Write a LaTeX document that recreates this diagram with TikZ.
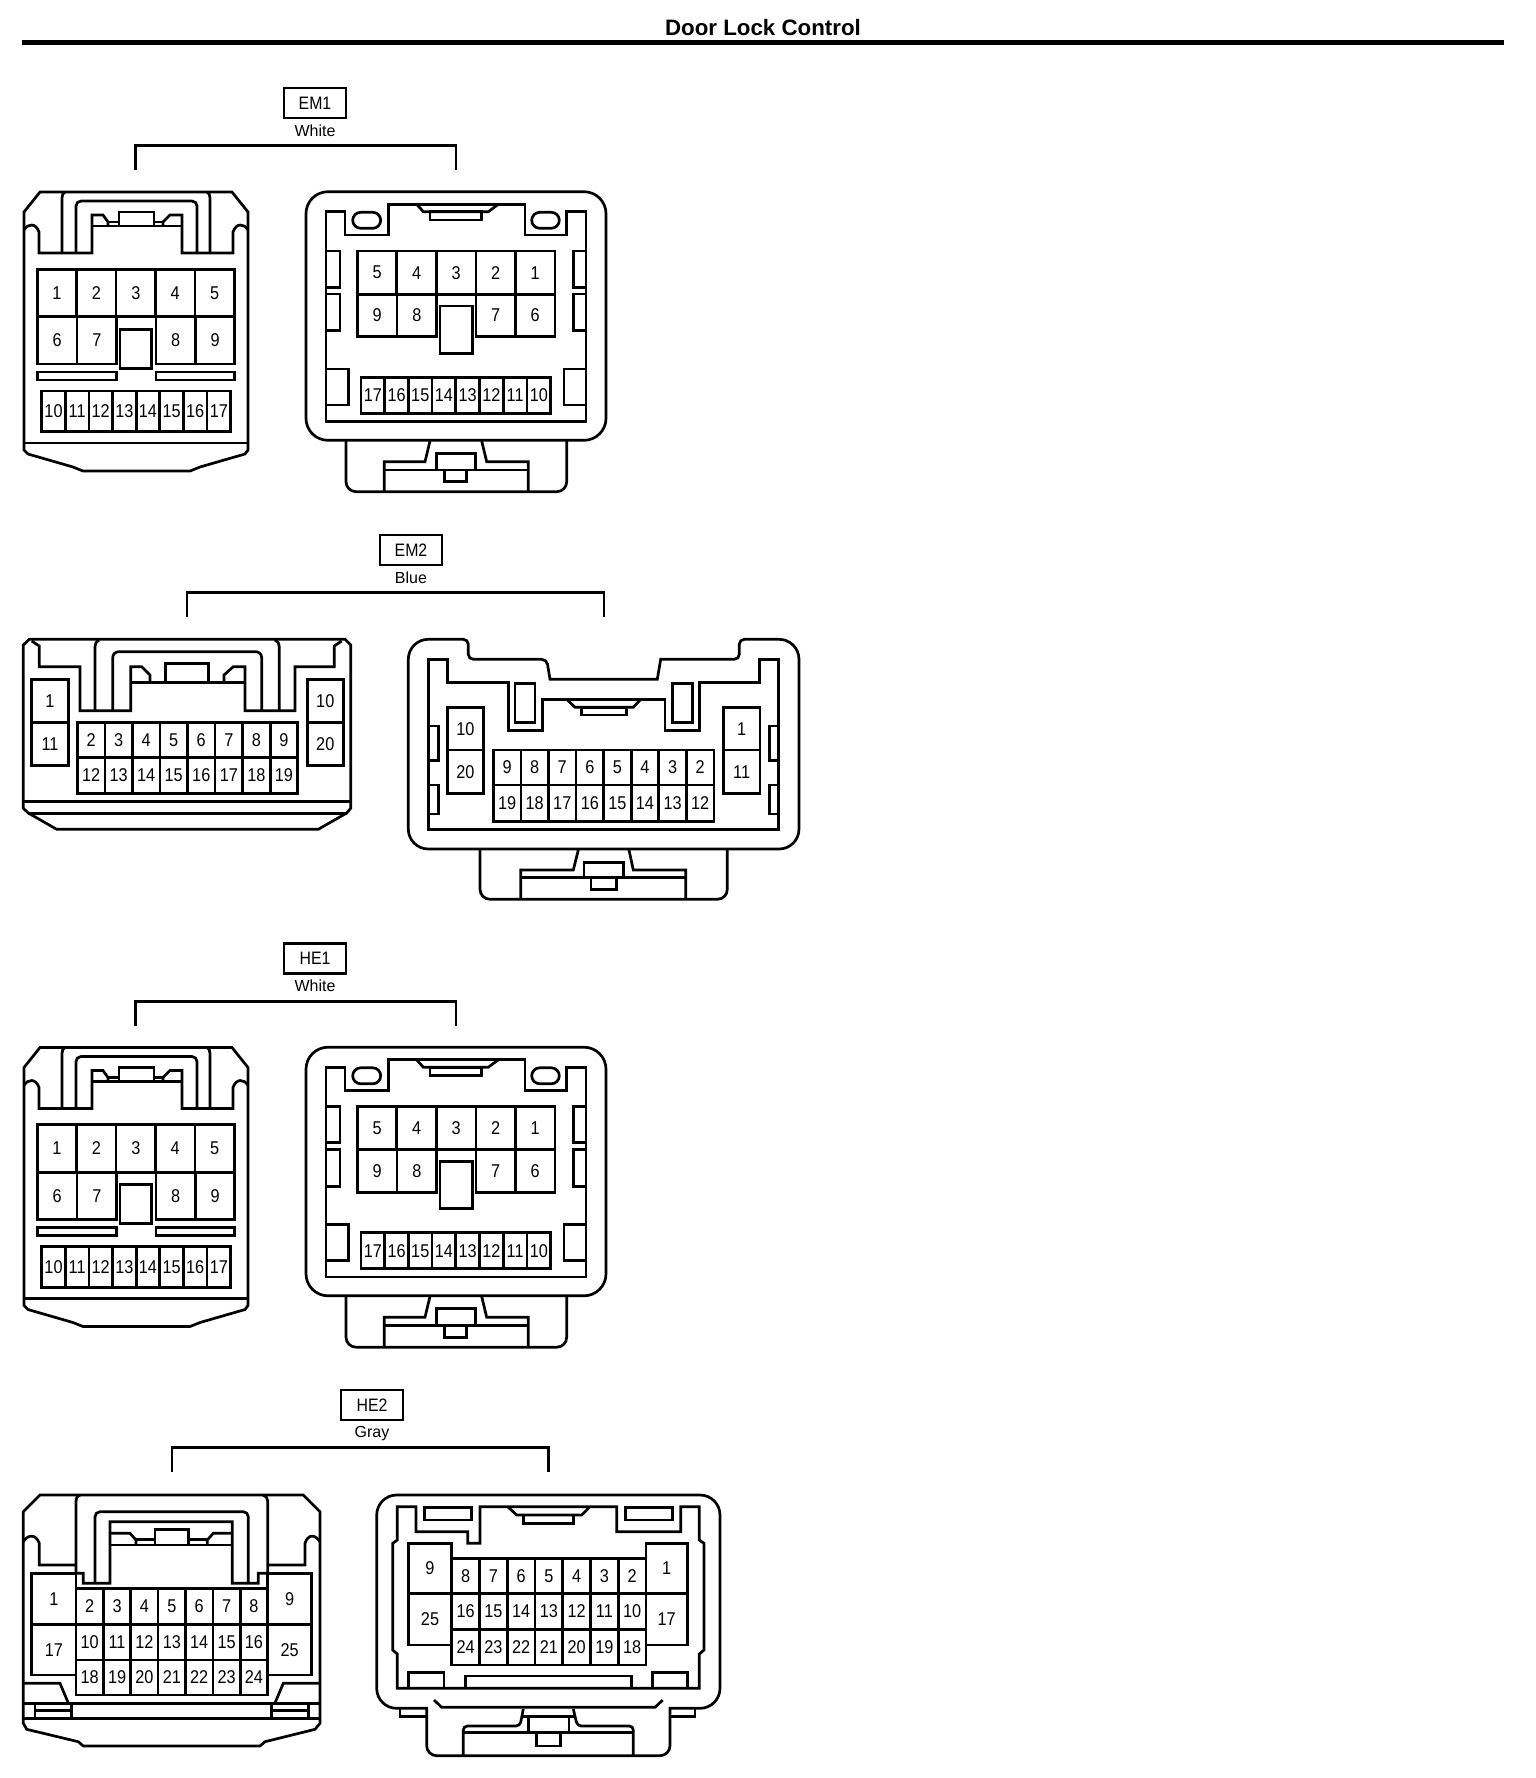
\documentclass[tikz,border=0pt]{standalone}
\usepackage{fontspec}
\setmainfont{Liberation Sans}
\newfontfamily\pinfont[FakeStretch=0.88]{Liberation Sans}
\usetikzlibrary{positioning}

% one row of numbered cavities: left x, cell width, top y, bottom y, numbers
\newcommand{\pinrow}[5]{
	\foreach \n [count=\i from 0] in {#5} {
		\draw [body] ({#1+\i*#2},#3) rectangle ({#1+(\i+1)*#2},#4);
		\node [pin] (pin\n) at ({#1+(\i+.5)*#2},{(#3+#4)/2}) {\n};
	}
}
% connector tag, colour under it and the bracket: x, y, tag, colour, bracket left, bracket right, bracket y
\newcommand{\tagblock}[7]{
	\node [tagbox] (tag#3) at (#1,#2) {#3};
	\node [colourtext, below=5pt of tag#3] (colour#3) {#4};
	\coordinate (left#3) at (#5,{#7+24.5});
	\coordinate (right#3) at (#6,{#7+24.5});
	\draw [body] (left#3) -- (#5,#7) -- (#6,#7) -- (right#3);
}

\begin{document}
\begin{tikzpicture}[x=1pt,y=-1pt]
	\tikzstyle{body}=[line width=2.7pt]
	\tikzstyle{pin}=[font=\pinfont\fontsize{18.5}{20}\selectfont, inner sep=0pt]
	\tikzstyle{tagbox}=[draw, line width=2.7pt, minimum width=62pt, minimum height=30pt, inner sep=0pt, font=\pinfont\fontsize{18}{20}\selectfont]
	\tikzstyle{colourtext}=[inner sep=0pt, font=\fontsize{16}{18}\selectfont]
	\useasboundingbox (0,0) rectangle (1536,1778);

	\node [font=\bfseries\fontsize{22.3}{24}\selectfont, inner sep=0pt] (title) at (763,28) {Door Lock Control};
	\draw [line width=4.6pt] (22,42.5) -- (1504,42.5);

	% EM1 and HE1 are the same pair
	\foreach \tag/\dy in {EM1/0,HE1/855.5} {
	\begin{scope}[yshift=-\dy pt, name prefix=\tag-]
		\tagblock{315}{103}{\tag}{White}{135.5}{456}{145.7}
		% male side
		\draw [body] (24,212) -- (40,192) -- (232,192) -- (248,212) -- (248,450) -- (245,454) -- (200,467) -- (190,471) -- (83,471) -- (73,467) -- (28,454) -- (24,450) -- cycle;
		\draw [body] (24,443) -- (248,443);
		\draw [body] (24,230) .. controls (28,223) and (36,223) .. (39,232) -- (39,253) -- (92,253) -- (92,215) -- (103,215) -- (108,222) -- (108,226);
		\draw [body] (248,230) .. controls (244,223) and (236,223) .. (233,232) -- (233,253) -- (182,253) -- (182,215) -- (170,215) -- (163,222) -- (163,226);
		\draw [body] (92,226) -- (182,226);
		\draw [body] (119,226) -- (119,212) -- (154,212) -- (154,226);
		\draw [body] (108,222) -- (119,222);
		\draw [body] (154,222) -- (163,222);
		\draw [body] (62,253) -- (62,198) .. controls (62,195) and (63,193) .. (65,192);
		\draw [body] (210,253) -- (210,198) .. controls (210,195) and (209,193) .. (207,192);
		\draw [body, rounded corners=5pt] (76,253) -- (76,201) -- (197,201) -- (197,253);
		\pinrow{37.3}{39.4}{269.3}{316.7}{1,2,3,4,5}
		\pinrow{37.3}{39.7}{316.7}{364}{6,7}
		\pinrow{156}{39.4}{316.7}{364}{8,9}
		\draw [body] (120,329.3) rectangle (151.7,368.3);
		\draw [body] (37.3,372) rectangle (116.7,380);
		\draw [body] (156,372) rectangle (234.7,380);
		\pinrow{41.7}{23.62}{391}{431.7}{10,11,12,13,14,15,16,17}
		% female side
		\draw [body, rounded corners=22pt] (306,315) -- (306,191.7) -- (606,191.7) -- (606,440.3) -- (306,440.3) -- cycle;
		\draw [body, rounded corners=10pt] (346,440.3) -- (346,491.7) -- (566.7,491.7) -- (566.7,440.3);
		\draw [body] (326,211.7) -- (345,211.7) -- (345,235) -- (388.3,235) -- (388.3,204.3) -- (525,204.3) -- (525,235) -- (566.7,235) -- (566.7,211.7) -- (586,211.7) -- (586,421.5) -- (326,421.5) -- cycle;
		\draw [body, rounded corners=8pt] (352.7,212.3) rectangle (380.7,228.3);
		\draw [body, rounded corners=8pt] (531.7,212.3) rectangle (559.3,228.3);
		\draw [body] (416.7,204.3) -- (423.3,211.7) -- (488.3,211.7) -- (498.3,204.3);
		\draw [body] (430,211.7) rectangle (481.7,220);
		\draw [body] (326,251) -- (340,251) -- (340,287.3) -- (326,287.3);
		\draw [body] (326,294) -- (340,294) -- (340,330.7) -- (326,330.7);
		\draw [body] (586,251) -- (573.3,251) -- (573.3,287.3) -- (586,287.3);
		\draw [body] (586,294) -- (573.3,294) -- (573.3,330.7) -- (586,330.7);
		\draw [body] (326,369) -- (348.3,369) -- (348.3,405) -- (326,405);
		\draw [body] (586,369) -- (564,369) -- (564,405) -- (586,405);
		\pinrow{357.3}{39.54}{251}{294.3}{5,4,3,2,1}
		\pinrow{357.3}{39.7}{294.3}{336.7}{9,8}
		\pinrow{476}{39.5}{294.3}{336.7}{7,6}
		\draw [body, fill=white] (440,306) rectangle (472.3,353.3);
		\pinrow{361}{23.71}{377.3}{413.3}{17,16,15,14,13,12,11,10}
		\draw [body] (384.3,491.7) -- (384.3,461.7) -- (425,461.7) -- (430,441);
		\draw [body] (528.3,491.7) -- (528.3,461.7) -- (486.7,461.7) -- (481.7,441);
		\draw [body] (384.3,470) -- (528.3,470);
		\draw [body] (436.7,470) -- (436.7,453.3) -- (475.7,453.3) -- (475.7,470);
		\draw [body] (444.3,470) -- (444.3,481.7) -- (466.7,481.7) -- (466.7,470);
	\end{scope}
	}

	% EM2
	\begin{scope}[name prefix=EM2-]
		\tagblock{411}{550}{EM2}{Blue}{187}{604}{592.3}
		% male side
		\draw [body] (23.3,645) -- (29.3,639.3) -- (345,639.3) -- (350.7,645) -- (350.7,808.3) -- (346.7,813) -- (318.3,829.3) -- (56.7,829.3) -- (28.3,813) -- (23.3,808.3) -- cycle;
		\draw [body] (23.3,801.7) -- (350.7,801.7);
		\draw [body] (28.3,813.3) -- (346.7,813.3);
		\draw [body] (31.7,641) -- (39.3,646) -- (39.3,666.7) -- (80,666.7) -- (80,710.7) -- (130.7,710.7) -- (130.7,666.7) -- (141.7,666.7) -- (150,675) -- (150,682.7);
		\draw [body] (341.7,641) -- (334.3,646) -- (334.3,666.7) -- (295,666.7) -- (295,710.7) -- (245,710.7) -- (245,666.7) -- (233.3,666.7) -- (224,675) -- (224,682.7);
		\draw [body] (130.7,682.7) -- (245,682.7);
		\draw [body] (165.7,682.7) -- (165.7,663.3) -- (208.3,663.3) -- (208.3,682.7);
		\draw [body] (95,710.7) -- (95,646.7) .. controls (95,644) and (96,641) .. (99,640);
		\draw [body] (279.3,710.7) -- (279.3,646.7) .. controls (279.3,644) and (278,641) .. (275,640);
		\draw [body, rounded corners=6pt] (112.7,710.7) -- (112.7,651.7) -- (261.7,651.7) -- (261.7,710.7);
		\pinrow{31.7}{36.6}{679.3}{722.3}{1}
		\pinrow{31.7}{36.6}{722.3}{765.7}{11}
		\pinrow{307.3}{36}{679.3}{722.3}{10}
		\pinrow{307.3}{36}{722.3}{765.7}{20}
		\pinrow{77.3}{27.55}{722.3}{757.3}{2,3,4,5,6,7,8,9}
		\pinrow{77.3}{27.55}{757.3}{793.3}{12,13,14,15,16,17,18,19}
		% female side
		\draw [body, rounded corners=5pt] (408.3,690) [rounded corners=20pt] -- (408.3,639.3) [rounded corners=5pt] -- (468.3,639.3) -- (468.3,659.3) -- (546.7,659.3) [sharp corners] -- (550,679.3) -- (657.3,679.3) -- (660.7,659.3) [rounded corners=5pt] -- (739.3,659.3) -- (739.3,639.3) [rounded corners=20pt] -- (799,639.3) -- (799,849) -- (408.3,849) -- (408.3,690);
		\draw [body] (428.3,659.3) -- (447.7,659.3) -- (447.7,682.7) -- (508.3,682.7) -- (508.3,730.7) -- (542.7,730.7) -- (542.7,699.3) -- (665,699.3) -- (665,730.7) -- (699.3,730.7) -- (699.3,682.7) -- (759.3,682.7) -- (759.3,659.3) -- (778.3,659.3) -- (778.3,829.3) -- (428.3,829.3) -- cycle;
		\draw [body] (515,683.3) rectangle (535,722.7);
		\draw [body] (672.7,683.3) rectangle (692.3,722.7);
		\draw [body] (566.7,699.3) -- (575,707.3) -- (633.3,707.3) -- (640.7,699.3);
		\draw [body] (581.7,707.3) rectangle (626.7,715);
		\draw [body] (429,726) -- (438.3,726) -- (438.3,760.7) -- (429,760.7);
		\draw [body] (429,785) -- (438.3,785) -- (438.3,814) -- (429,814);
		\draw [body] (778,726) -- (769.3,726) -- (769.3,760.7) -- (778,760.7);
		\draw [body] (778,785) -- (769.3,785) -- (769.3,814) -- (778,814);
		\pinrow{447.3}{36}{707.3}{750}{10}
		\pinrow{447.3}{36}{750}{793.3}{20}
		\pinrow{723.3}{36.7}{707.3}{750}{1}
		\pinrow{723.3}{36.7}{750}{793.3}{11}
		\pinrow{493.3}{27.58}{750}{785}{9,8,7,6,5,4,3,2}
		\pinrow{493.3}{27.58}{785}{821.7}{19,18,17,16,15,14,13,12}
		\draw [body, rounded corners=10pt] (480,849) -- (480,899.3) -- (727.3,899.3) -- (727.3,849);
		\draw [body] (520.7,899.3) -- (520.7,870) -- (573.3,870) -- (578.3,850);
		\draw [body] (685.7,899.3) -- (685.7,870) -- (633.3,870) -- (629,850);
		\draw [body] (520.7,877.3) -- (685.7,877.3);
		\draw [body] (584,877.3) -- (584,862.7) -- (623.3,862.7) -- (623.3,877.3);
		\draw [body] (591,877.3) -- (591,889.3) -- (616.7,889.3) -- (616.7,877.3);
	\end{scope}

	% HE2
	\begin{scope}[name prefix=HE2-]
		\tagblock{372}{1405}{HE2}{Gray}{172}{548.4}{1447.3}
		% male side
		\draw [body] (23.3,1511.7) -- (40,1495) -- (303.3,1495) -- (320,1511.7) -- (320,1723.3) -- (315,1729.3) -- (265,1741.7) -- (260,1746) -- (83.3,1746) -- (78.3,1741.7) -- (26.7,1729.3) -- (23.3,1723.3) -- cycle;
		\draw [body] (23.3,1703.3) -- (320,1703.3);
		\draw [body] (23.3,1718.3) -- (320,1718.3);
		\draw [body] (23.3,1541.7) .. controls (28,1534) and (36,1534) .. (39.3,1543.3) -- (39.3,1565) -- (76,1565);
		\draw [body] (320,1541.7) .. controls (315,1534) and (308,1534) .. (305,1543.3) -- (305,1565) -- (267.7,1565);
		\draw [body] (80,1495) .. controls (77,1496) and (76,1498) .. (76,1501) -- (76,1573.3) -- (83.3,1573.3) -- (83.3,1583.3) -- (110,1583.3) -- (110,1521.7) -- (232.3,1521.7) -- (232.3,1583.3) -- (258.3,1583.3) -- (258.3,1573.3) -- (267.7,1573.3) -- (267.7,1501) .. controls (267.7,1498) and (266,1496) .. (263,1495);
		\draw [body, rounded corners=5pt] (95,1583.3) -- (95,1511.7) -- (248.3,1511.7) -- (248.3,1583.3);
		\draw [body] (110,1545) -- (232.3,1545);
		\draw [body] (110,1533.3) -- (130,1533.3) -- (136,1540) -- (136,1545);
		\draw [body] (232.3,1533.3) -- (213.3,1533.3) -- (207.3,1540) -- (207.3,1545);
		\draw [body] (155,1545) -- (155,1529.3) -- (188.3,1529.3) -- (188.3,1545);
		\draw [body] (136,1539.3) -- (155,1539.3);
		\draw [body] (188.3,1539.3) -- (207.3,1539.3);
		\pinrow{31.7}{44.3}{1573.3}{1624.3}{1}
		\pinrow{31.7}{44.3}{1624.3}{1675}{17}
		\pinrow{267.7}{44}{1573.3}{1624.3}{9}
		\pinrow{267.7}{44}{1624.3}{1675}{25}
		\pinrow{76}{27.38}{1588.3}{1624.3}{2,3,4,5,6,7,8}
		\pinrow{76}{27.38}{1624.3}{1660}{10,11,12,13,14,15,16}
		\pinrow{76}{27.38}{1660}{1695}{18,19,20,21,22,23,24}
		\draw [body] (23.3,1683.3) -- (60,1683.3) -- (68.3,1703);
		\draw [body] (320,1683.3) -- (283.3,1683.3) -- (275,1703);
		\draw [body] (35,1703.3) -- (35,1718.3);
		\draw [body] (71.7,1703.3) -- (71.7,1718.3);
		\draw [body] (35,1710.7) -- (71.7,1710.7);
		\draw [body] (271.7,1703.3) -- (271.7,1718.3);
		\draw [body] (308.3,1703.3) -- (308.3,1718.3);
		\draw [body] (271.7,1710.7) -- (308.3,1710.7);
		% female side
		\draw [body, rounded corners=20pt] (376.7,1600) -- (376.7,1495) -- (720,1495) -- (720,1708.3) [sharp corners] -- (670,1708.3) [rounded corners=10pt] -- (670,1755.7) -- (426.7,1755.7) [sharp corners] -- (426.7,1708.3) [rounded corners=20pt] -- (376.7,1708.3) -- (376.7,1600);
		\draw [body] (400,1708.3) -- (400,1716.7) -- (426.7,1716.7);
		\draw [body] (695,1708.3) -- (695,1716.7) -- (670,1716.7);
		\draw [body] (397.3,1506.7) -- (416,1506.7) -- (416,1531.7) -- (467.7,1531.7) -- (467.7,1543.3) -- (480,1543.3) -- (480,1506.7) -- (616.7,1506.7) -- (616.7,1531.7) -- (680.7,1531.7) -- (680.7,1506.7) -- (699.3,1506.7) -- (699.3,1540) -- (704,1543.3) -- (704,1650) -- (699.3,1654) -- (699.3,1688.3) -- (397.3,1688.3) -- (397.3,1654) -- (392.7,1650) -- (392.7,1543.3) -- (397.3,1540) -- cycle;
		\draw [body] (424.3,1507.3) rectangle (471.7,1520);
		\draw [body] (625.7,1507.3) rectangle (672.7,1520);
		\draw [body] (508.3,1507.3) -- (516.7,1515) -- (581.7,1515) -- (589.3,1507.3);
		\draw [body] (523.3,1515) rectangle (573.3,1523.3);
		\pinrow{408.3}{43.4}{1543.3}{1593.3}{9}
		\pinrow{408.3}{43.4}{1593.3}{1645}{25}
		\pinrow{646}{41.3}{1543.3}{1593.3}{1}
		\pinrow{646}{41.3}{1593.3}{1645}{17}
		\pinrow{451.7}{27.76}{1558.3}{1593.3}{8,7,6,5,4,3,2}
		\pinrow{451.7}{27.76}{1593.3}{1629.3}{16,15,14,13,12,11,10}
		\pinrow{451.7}{27.76}{1629.3}{1665}{24,23,22,21,20,19,18}
		\draw [body] (408.3,1688.3) -- (408.3,1672.7) -- (444,1672.7) -- (444,1688.3);
		\draw [body] (652.7,1688.3) -- (652.7,1672.7) -- (687.3,1672.7) -- (687.3,1688.3);
		\draw [body] (465.7,1688.3) -- (465.7,1676) -- (631.7,1676) -- (631.7,1688.3);
		\draw [body] (434,1700) -- (441.7,1707.3) -- (655,1707.3) -- (662.7,1700);
		\draw [body, rounded corners=4pt] (463.3,1755.7) -- (463.3,1726) -- (520,1726) [sharp corners] -- (523.3,1709);
		\draw [body, rounded corners=4pt] (633.3,1755.7) -- (633.3,1726) -- (577.3,1726) [sharp corners] -- (573.3,1709);
		\draw [body] (463.3,1732.7) -- (633.3,1732.7);
		\draw [body] (521,1716.7) -- (576,1716.7);
		\draw [body] (528.3,1732.7) -- (528.3,1716.7);
		\draw [body] (569,1732.7) -- (569,1716.7);
		\draw [body] (536.7,1732.7) -- (536.7,1746) -- (560.7,1746) -- (560.7,1732.7);
	\end{scope}
\end{tikzpicture}
\end{document}
